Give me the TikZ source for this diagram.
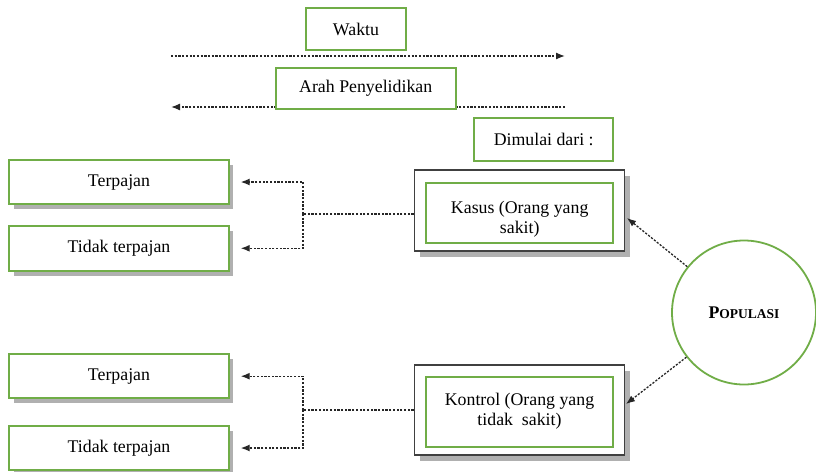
\documentclass[tikz,border=0pt]{standalone}
\usepackage{fontspec}
\setmainfont{Liberation Serif}
\usetikzlibrary{arrows.meta,shadows}
\definecolor{boxgreen}{HTML}{70AD47}
\definecolor{framegray}{HTML}{404040}
\definecolor{shadegray}{HTML}{B0B0B0}
\begin{document}
\begin{tikzpicture}[x=1pt,y=-1pt,
  every node/.style={font=\fontsize{17.8}{20}\selectfont, inner sep=0pt, align=center},
  greenbox/.style={draw=boxgreen, line width=2pt, fill=white},
  shadebox/.style={greenbox, drop shadow={shadow xshift=4.5pt, shadow yshift=-5pt, fill=shadegray, opacity=1}},
  framebox/.style={draw=framegray, line width=1.6pt, fill=white,
    drop shadow={shadow xshift=5.5pt, shadow yshift=-5.5pt, fill=shadegray, opacity=1}},
  dotline/.style={draw=black!85, line width=1.3pt, dash pattern=on 2.2pt off 1.5pt},
  arr/.style={dotline, -{Latex[length=9pt,width=7pt]}},
  popcircle/.style={draw=boxgreen, line width=1.8pt, circle, minimum size=144pt, fill=white}
]
\useasboundingbox (0,0) rectangle (816,471);

% time and investigation direction
\coordinate (wL) at (171,56);
\coordinate (wR) at (565,56);
\coordinate (aR) at (565,107);
\coordinate (aL) at (171,107);
\draw[arr] (wL) -- (wR);
\draw[arr] (aR) -- (aL);
\node[greenbox, minimum width=100pt, minimum height=42pt] (waktu) at (356,29) {Waktu};
\node[greenbox, minimum width=180pt, minimum height=41.6pt] (arah) at (365.7,88.5) {Arah Penyelidikan};
\node[greenbox, minimum width=139pt, minimum height=42.4pt] (mulai) at (543.7,139.5) {Dimulai dari :};

% cases and controls
\node[framebox, minimum width=210pt, minimum height=81pt] (kasusO) at (519.3,210.5) {};
\node[greenbox, minimum width=187pt, minimum height=60pt] (kasusI) at (519.7,212.7) {};
\node (kasusT) at (519.7,219) {Kasus (Orang yang\\sakit)};
\node[framebox, minimum width=210pt, minimum height=90pt] (kontrolO) at (519.3,410) {};
\node[greenbox, minimum width=187pt, minimum height=70pt] (kontrolI) at (519.5,411.7) {Kontrol (Orang yang\\tidak~~sakit)};

% exposure groups
\node[shadebox, minimum width=219.4pt, minimum height=44.3pt] (t1) at (119,182) {Terpajan};
\node[shadebox, minimum width=219.4pt, minimum height=44.7pt] (n1) at (119,248.3) {Tidak terpajan};
\node[shadebox, minimum width=219.4pt, minimum height=44.3pt] (t2) at (119,376.2) {Terpajan};
\node[shadebox, minimum width=219.4pt, minimum height=44pt] (n2) at (119,448) {Tidak terpajan};

% population
\node[popcircle] (pop) at (744,312.5) {\bfseries P{\fontsize{13.5}{15}\selectfont OPULASI}};

% branching connectors
\coordinate (j1) at (303,214);
\coordinate (j2) at (303,410);
\draw[dotline] (kasusO.west |- j1) -- (j1);
\draw[arr, shorten >=11pt] (j1) |- (t1.east);
\draw[arr, shorten >=11pt] (j1) |- (n1.east);
\draw[dotline] (kontrolO.west |- j2) -- (j2);
\draw[arr, shorten >=11pt] (j2) |- (t2.east);
\draw[arr, shorten >=11pt] (j2) |- (n2.east);

% population to groups
\coordinate (k1) at (627,218);
\coordinate (k2) at (626,404);
\draw[arr] (pop) -- (k1);
\draw[arr] (pop) -- (k2);
\end{tikzpicture}
\end{document}
